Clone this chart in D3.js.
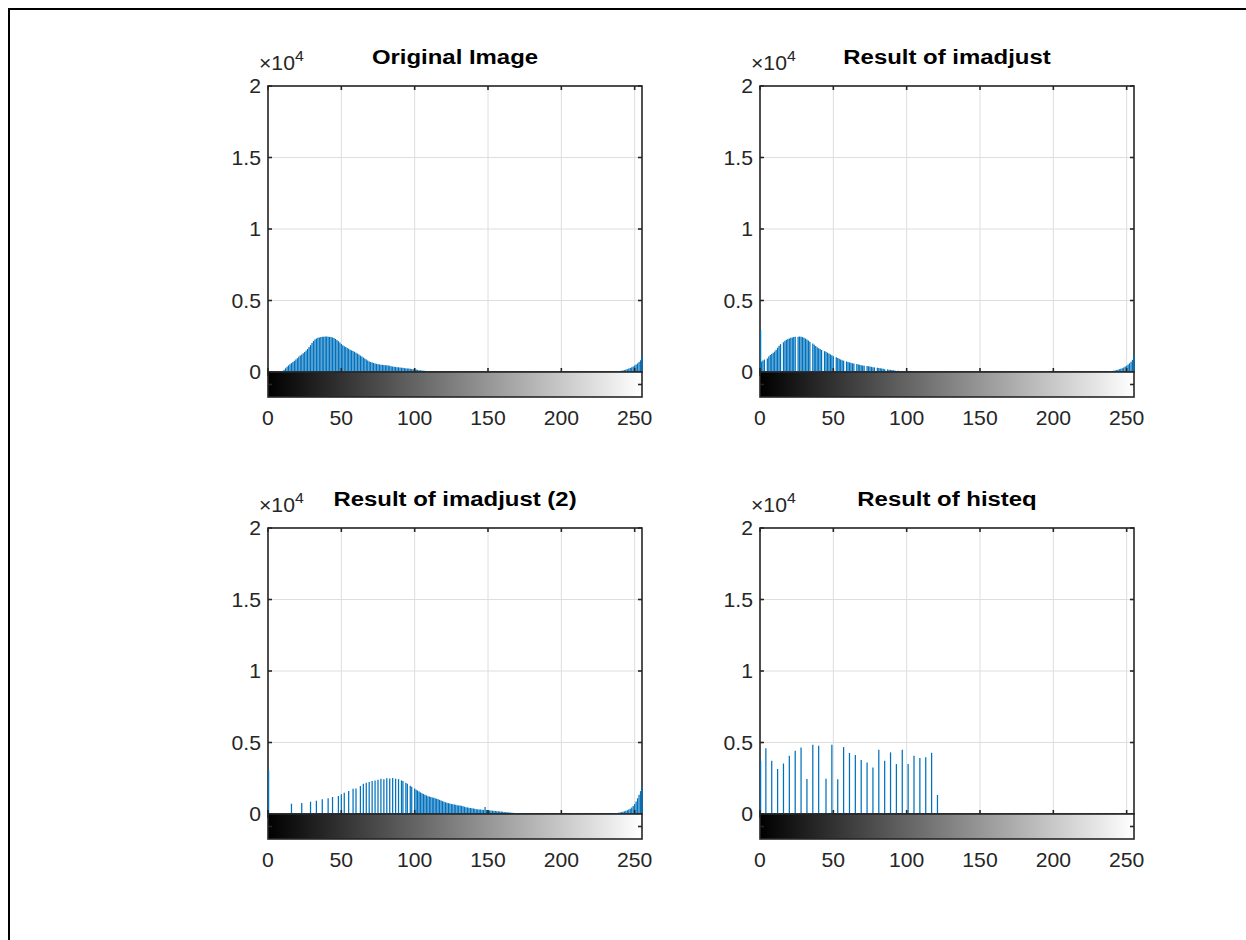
<!DOCTYPE html>
<html>
<head>
<meta charset="utf-8">
<script src="https://cdn.jsdelivr.net/npm/d3@7"></script>
<style>
  body { margin: 0; background: #fff; }
  text { font-family: "Liberation Sans", Arial, sans-serif; fill: #262626; }
</style>
</head>
<body>
<script>
// ---- data (counts per gray level) ----
var titles = ["Original Image", "Result of imadjust", "Result of imadjust (2)", "Result of histeq"];
var xTicks = [0, 50, 100, 150, 200, 250];
var yTicks = [0, 5000, 10000, 15000, 20000];
var yTickLabels = ["0", "0.5", "1", "1.5", "2"];

// original image: bins 10..115 and 236..255
var origStart = 10;
var origCounts = [60, 150, 260, 360, 460, 540, 620, 700, 780, 870,
  970, 1070, 1150, 1230, 1310, 1400, 1500, 1610, 1740, 1880,
  2030, 2170, 2270, 2340, 2390, 2420, 2450, 2460, 2470, 2490,
  2480, 2470, 2460, 2440, 2410, 2370, 2310, 2240, 2160, 2060,
  1960, 1870, 1800, 1740, 1680, 1620, 1560, 1510, 1460, 1410,
  1350, 1290, 1220, 1150, 1080, 1010, 940, 870, 800, 740,
  700, 660, 630, 600, 570, 550, 530, 510, 500, 490,
  480, 470, 450, 430, 410, 390, 370, 350, 340, 330,
  320, 300, 290, 270, 260, 250, 240, 220, 210, 200,
  190, 170, 150, 130, 120, 100, 90, 80, 70, 60,
  50, 40, 30, 20, 15, 10];
var origTailStart = 236;
var origTail = [20, 30, 40, 50, 70, 90, 110, 140, 170, 200, 240, 280, 330, 390, 450, 520, 600, 700, 820, 1150];

// imadjust: bins 0..103 (with empty bins) and 236..255
var adjStart = 0;
var adjCounts = [2950, 720, 800, 870, 0, 950, 1080, 1190, 1260, 1340,
  1430, 1560, 1700, 1830, 1950, 0, 2080, 2180, 2250, 2300,
  2350, 2390, 2420, 2440, 2460, 0, 2470, 2480, 2470, 2440,
  2400, 2340, 2270, 2200, 2120, 0, 2000, 1900, 1810, 1730,
  1660, 1600, 1540, 0, 1460, 1410, 1350, 1290, 1230, 1170,
  1110, 0, 1040, 980, 930, 880, 830, 790, 0, 740,
  700, 670, 640, 610, 590, 0, 560, 530, 500, 480,
  460, 440, 0, 420, 400, 380, 360, 340, 320, 0,
  300, 280, 260, 240, 220, 200, 0, 180, 160, 150,
  140, 120, 100, 0, 80, 70, 60, 50, 40, 30,
  0, 20, 15, 10];
var adjTailStart = 236;
var adjTail = [15, 25, 35, 50, 65, 85, 105, 130, 160, 190, 230, 270, 320, 380, 440, 520, 610, 720, 850, 1150];

// imadjust (2): sparse low part, dense mid part, tail
var adj2Bins = [0, 16, 23, 29, 33, 37, 41, 44, 48, 50, 52, 55, 58, 60, 63, 65, 67, 69, 71, 73,
  75, 77, 79, 81, 83, 85, 87, 89, 91, 92, 94, 95, 97, 98];
var adj2Sparse = [3050, 720, 770, 860, 930, 1030, 1100, 1190, 1260, 1380, 1490, 1610, 1770, 1790, 1960, 2120, 2190, 2240, 2300, 2340,
  2400, 2460, 2430, 2500, 2480, 2510, 2470, 2440, 2350, 2300, 2180, 2110, 1980, 1900];
var adj2Start = 100;
var adj2Counts = [1780, 1700, 1640, 1580, 1510, 1450, 1400, 1350, 1300, 1250,
  1220, 1190, 1160, 1130, 1100, 1070, 1030, 990, 950, 900,
  860, 820, 790, 760, 730, 700, 680, 660, 640, 620,
  600, 590, 570, 540, 510, 480, 460, 440, 420, 400,
  380, 360, 340, 330, 320, 310, 300, 290, 490, 280,
  260, 250, 240, 230, 220, 210, 200, 190, 180, 170,
  150, 140, 130, 120, 110, 100, 90, 80, 70, 60,
  50, 40, 35, 30, 25, 20, 15, 10];
var adj2TailStart = 230;
var adj2Tail = [10, 15, 20, 25, 30, 40, 50, 60, 70, 90, 110, 130, 160, 190, 220, 260, 310, 370, 450, 560, 700, 880, 1100, 1350, 1600, 1900];

// histeq: 64 output levels, only the lower ones used
var eqBins = [0, 4, 8, 12, 16, 20, 24, 28, 32, 36, 40, 45, 49, 53, 57, 61, 65, 69, 73, 77, 81, 85, 89, 93, 97, 101, 105, 109, 113, 117, 121];
var eqCounts = [3700, 4600, 3720, 3150, 3530, 4070, 4420, 4650, 2440, 4850, 4780, 2460, 4850, 2430, 4680, 4270, 4120, 3780, 3600, 3260,
  4500, 3730, 4310, 3490, 4490, 3490, 4080, 3920, 3960, 4280, 1330];

// ---- helpers to turn the lists into 256-bin tables ----
function emptyHist() {
  return d3.range(256).map(function() { return 0; });
}
function fillRun(h, start, vals) {
  vals.forEach(function(v, i) { h[start + i] = v; });
  return h;
}
function fillPairs(h, bins, vals) {
  bins.forEach(function(b, i) { h[b] = vals[i]; });
  return h;
}

var hists = [
  fillRun(fillRun(emptyHist(), origStart, origCounts), origTailStart, origTail),
  fillRun(fillRun(emptyHist(), adjStart, adjCounts), adjTailStart, adjTail),
  fillRun(fillRun(fillPairs(emptyHist(), adj2Bins, adj2Sparse), adj2Start, adj2Counts), adj2TailStart, adj2Tail),
  fillPairs(emptyHist(), eqBins, eqCounts)
];

// ---- layout ----
var W = 1246, H = 940;
var lefts = [268, 760], tops = [86, 528];
var width = 374, height = 286, cbH = 25, tick = 4;
var axisCol = "#262626", gridCol = "#dedede", barCol = "#0072BD";
var sx = 1.06; // text in the picture is drawn a little wide

var svg = d3.select("body").append("svg")
  .attr("width", W)
  .attr("height", H);

// figure border
svg.append("rect")
  .attr("x", 9).attr("y", 9)
  .attr("width", 1400).attr("height", 1100)
  .attr("fill", "none")
  .attr("stroke", "#000")
  .attr("stroke-width", 2);

var grad = svg.append("defs").append("linearGradient")
  .attr("id", "gray")
  .attr("x1", "0%").attr("x2", "100%").attr("y1", "0%").attr("y2", "0%");
grad.append("stop").attr("offset", "0%").attr("stop-color", "#000");
grad.append("stop").attr("offset", "100%").attr("stop-color", "#fff");

var x = d3.scaleLinear().domain([0, 255]).range([0, width]);
var y = d3.scaleLinear().domain([0, 20000]).range([height, 0]);

hists.forEach(function(counts, k) {
  var g = svg.append("g")
    .attr("transform", "translate(" + lefts[k % 2] + "," + tops[Math.floor(k / 2)] + ")");

  // grid
  g.selectAll(".gx").data(xTicks).enter().append("line")
    .attr("x1", function(d) { return x(d); }).attr("x2", function(d) { return x(d); })
    .attr("y1", 0).attr("y2", height)
    .attr("stroke", gridCol).attr("stroke-width", 1);
  g.selectAll(".gy").data(yTicks).enter().append("line")
    .attr("x1", 0).attr("x2", width)
    .attr("y1", function(d) { return y(d); }).attr("y2", function(d) { return y(d); })
    .attr("stroke", gridCol).attr("stroke-width", 1);

  // box
  g.append("rect")
    .attr("width", width).attr("height", height)
    .attr("fill", "none").attr("stroke", axisCol).attr("stroke-width", 1.6);

  // stems (drawn over the box so bin 0 shows on the left edge)
  var bins = counts.map(function(c, i) { return { bin: i, count: c }; })
    .filter(function(d) { return d.count > 0; });
  g.selectAll(".stem").data(bins).enter().append("line")
    .attr("class", "stem")
    .attr("x1", function(d) { return x(d.bin) + (d.bin === 0 ? 0.6 : 0); })
    .attr("x2", function(d) { return x(d.bin) + (d.bin === 0 ? 0.6 : 0); })
    .attr("y1", y(0))
    .attr("y2", function(d) { return y(d.count); })
    .attr("stroke", barCol)
    .attr("stroke-width", 1.25);

  // inward ticks, all four sides
  g.selectAll(".tb").data(xTicks).enter().append("line")
    .attr("x1", function(d) { return x(d); }).attr("x2", function(d) { return x(d); })
    .attr("y1", height - tick).attr("y2", height + tick)
    .attr("stroke", axisCol).attr("stroke-width", 1.6);
  g.selectAll(".tt").data(xTicks).enter().append("line")
    .attr("x1", function(d) { return x(d); }).attr("x2", function(d) { return x(d); })
    .attr("y1", 0).attr("y2", tick)
    .attr("stroke", axisCol).attr("stroke-width", 1.6);
  g.selectAll(".tl").data(yTicks).enter().append("line")
    .attr("x1", 0).attr("x2", tick)
    .attr("y1", function(d) { return y(d); }).attr("y2", function(d) { return y(d); })
    .attr("stroke", axisCol).attr("stroke-width", 1.6);
  g.selectAll(".tr").data(yTicks).enter().append("line")
    .attr("x1", width - tick).attr("x2", width)
    .attr("y1", function(d) { return y(d); }).attr("y2", function(d) { return y(d); })
    .attr("stroke", axisCol).attr("stroke-width", 1.6);

  // gray colorbar under the histogram
  var cb = g.append("g").attr("transform", "translate(0," + height + ")");
  cb.append("rect")
    .attr("width", width).attr("height", cbH)
    .attr("fill", "url(#gray)")
    .attr("stroke", axisCol).attr("stroke-width", 1.6);
  cb.append("line")
    .attr("x1", 0).attr("x2", tick).attr("y1", cbH / 2).attr("y2", cbH / 2)
    .attr("stroke", axisCol).attr("stroke-width", 1.6);
  cb.append("line")
    .attr("x1", width - tick).attr("x2", width).attr("y1", cbH / 2).attr("y2", cbH / 2)
    .attr("stroke", axisCol).attr("stroke-width", 1.6);

  // x tick labels
  g.selectAll(".xl").data(xTicks).enter().append("text")
    .attr("transform", function(d) { return "translate(" + x(d) + "," + (height + cbH + 28) + ") scale(" + sx + ",1)"; })
    .attr("text-anchor", "middle")
    .style("font-size", "20px")
    .text(function(d) { return d; });

  // y tick labels
  g.selectAll(".yl").data(yTicks).enter().append("text")
    .attr("transform", function(d) { return "translate(-7," + (y(d) + 7) + ") scale(" + sx + ",1)"; })
    .attr("text-anchor", "end")
    .style("font-size", "20px")
    .text(function(d, i) { return yTickLabels[i]; });

  // exponent
  var ex = g.append("text")
    .attr("transform", "translate(-9,-16) scale(" + sx + ",1)")
    .style("font-size", "20px");
  ex.append("tspan").text("\u00d710");
  ex.append("tspan").attr("dy", -9).style("font-size", "15px").text("4");

  // title
  g.append("text")
    .attr("transform", "translate(" + width / 2 + ",-22) scale(1.14,1)")
    .attr("text-anchor", "middle")
    .style("font-size", "21px")
    .style("font-weight", "bold")
    .style("fill", "#000")
    .text(titles[k]);
});
</script>
</body>
</html>
